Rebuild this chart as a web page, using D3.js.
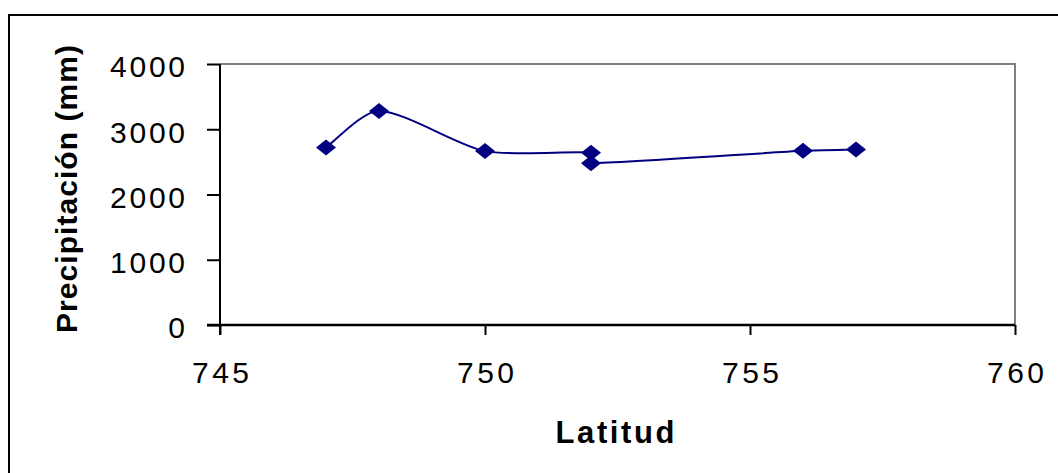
<!DOCTYPE html>
<html>
<head>
<meta charset="utf-8">
<script src="https://cdn.jsdelivr.net/npm/d3@7"></script>
<style>
  body { margin: 0; background: #fff; }
  svg { display: block; font-family: "Liberation Sans", Arial, sans-serif; }
</style>
</head>
<body>
<svg id="chart" width="1058" height="473"></svg>
<script>
// latitude vs precipitation readings
const latitud = [747, 748, 750, 752, 752, 756, 757]
const precipitacion = [2720, 3280, 2665, 2640, 2480, 2670, 2690]
const xTicks = [745, 750, 755, 760]
const yTicks = [0, 1000, 2000, 3000, 4000]

const svg = d3.select("#chart")

const plot = {left: 220, right: 1015, top: 64, bottom: 325}

const x = d3.scaleLinear().domain([745, 760]).range([plot.left, plot.right])
const y = d3.scaleLinear().domain([0, 4000]).range([plot.bottom, plot.top])

// outer chart frame (only top and left edges are in view)
svg.append("path")
    .attr("d", "M9 473 L9 15 L1058 15")
    .attr("fill", "none")
    .attr("stroke", "#000")
    .attr("stroke-width", 2)

// plot area top/right border in gray
svg.append("path")
    .attr("d", `M${plot.left} ${plot.top} L${plot.right} ${plot.top} L${plot.right} ${plot.bottom}`)
    .attr("fill", "none")
    .attr("stroke", "#808080")
    .attr("stroke-width", 2)

const yAxis = svg.append("g")
    .attr("transform", `translate(${plot.left},0)`)
    .call(d3.axisLeft(y).tickValues(yTicks).tickFormat(d3.format("d"))
        .tickSize(13).tickSizeOuter(0).tickPadding(22))

const xAxis = svg.append("g")
    .attr("transform", `translate(0,${plot.bottom})`)
    .call(d3.axisBottom(x).tickValues(xTicks).tickFormat(d3.format("d"))
        .tickSize(10).tickSizeOuter(0).tickPadding(27))

yAxis.select(".domain").attr("d", `M0 ${plot.top} L0 ${plot.bottom + 10}`)
    .attr("stroke", "#000").attr("stroke-width", 2)
xAxis.select(".domain").attr("d", `M${plot.left - 13} 0 L${plot.right} 0`)
    .attr("stroke", "#000").attr("stroke-width", 2.5)

svg.selectAll(".tick line").attr("stroke", "#000").attr("stroke-width", 2)

yAxis.selectAll("text")
    .attr("font-size", 30)
    .attr("font-family", "Liberation Sans, Arial, sans-serif")
    .attr("fill", "#000")
    .attr("dy", "0.43em")
    .each(function(d) {
        const n = String(d).length
        d3.select(this).attr("textLength", n === 1 ? 18 : 75).attr("lengthAdjust", "spacing")
    })

xAxis.selectAll("text")
    .attr("font-size", 30)
    .attr("font-family", "Liberation Sans, Arial, sans-serif")
    .attr("fill", "#000")
    .attr("textLength", 57)
    .attr("lengthAdjust", "spacing")

// axis titles
svg.append("text")
    .attr("x", 615)
    .attr("y", 443)
    .attr("text-anchor", "middle")
    .attr("font-size", 31)
    .attr("font-weight", "bold")
    .attr("textLength", 119)
    .attr("lengthAdjust", "spacing")
    .text("Latitud")

svg.append("text")
    .attr("transform", "translate(77,189) rotate(-90)")
    .attr("text-anchor", "middle")
    .attr("font-size", 30)
    .attr("font-weight", "bold")
    .attr("textLength", 288)
    .attr("lengthAdjust", "spacing")
    .text("Precipitación (mm)")

const data = latitud.map((d, i) => ({lat: d, pp: precipitacion[i]}))

// spreadsheet-style smoothed line: catmull-rom bezier, but control arms
// are clamped to a share of the segment so short hops don't loop
function smoothPath(points, maxShare = 0.25) {
    const p = d3.path()
    const n = points.length
    const arm = (i, seg) => {
        const prev = points[Math.max(i - 1, 0)]
        const next = points[Math.min(i + 1, n - 1)]
        let tx = (next[0] - prev[0]) / 6
        let ty = (next[1] - prev[1]) / 6
        const len = Math.hypot(tx, ty)
        const lim = seg * maxShare
        if (len > lim && len > 0) {
            tx *= lim / len
            ty *= lim / len
        }
        return [tx, ty]
    }
    p.moveTo(points[0][0], points[0][1])
    for (let i = 0; i < n - 1; i++) {
        const a = points[i], b = points[i + 1]
        const seg = Math.hypot(b[0] - a[0], b[1] - a[1])
        const t0 = arm(i, seg)
        const t1 = arm(i + 1, seg)
        p.bezierCurveTo(a[0] + t0[0], a[1] + t0[1], b[0] - t1[0], b[1] - t1[1], b[0], b[1])
    }
    return p.toString()
}

svg.append("path")
    .attr("d", smoothPath(data.map(d => [x(d.lat), y(d.pp)])))
    .attr("fill", "none")
    .attr("stroke", "#000080")
    .attr("stroke-width", 2)

// diamond markers
svg.selectAll(".marker")
    .data(data)
    .join("path")
    .attr("class", "marker")
    .attr("d", "M0 -8 L10 0 L0 8 L-10 0 Z")
    .attr("transform", d => `translate(${x(d.lat)},${y(d.pp)})`)
    .attr("fill", "#000080")
</script>
</body>
</html>
